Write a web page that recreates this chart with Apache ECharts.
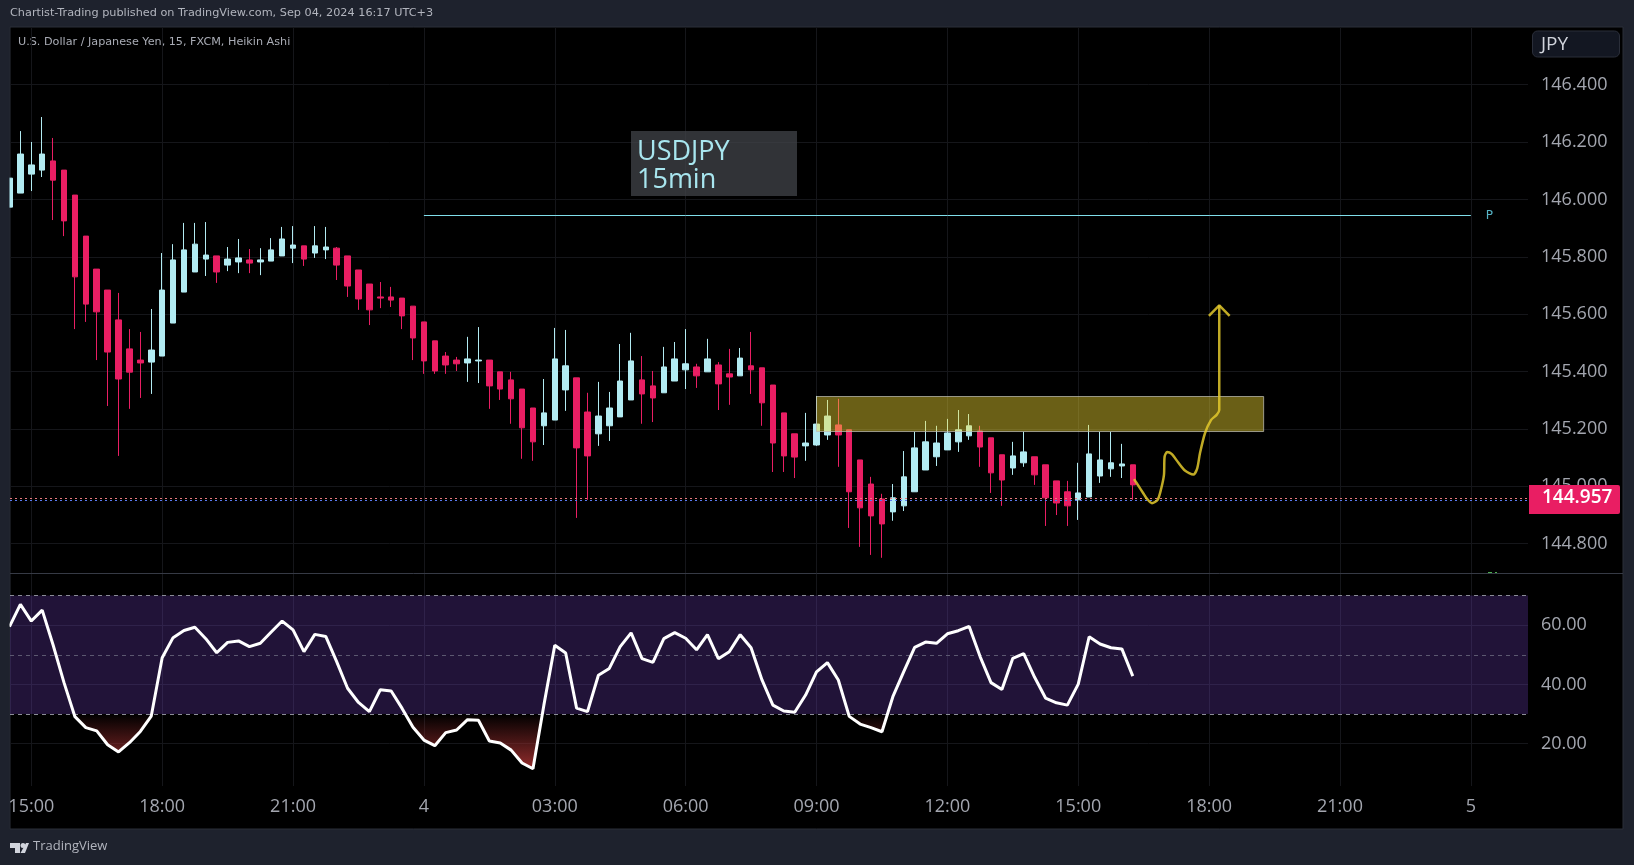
<!DOCTYPE html>
<html>
<head>
<meta charset="utf-8">
<title>USDJPY 15min</title>
<script src="https://cdn.jsdelivr.net/npm/echarts@6/dist/echarts.min.js"></script>
<style>
  html, body { margin: 0; padding: 0; background: #1e222d; }
  #chart { width: 1634px; height: 865px; }
</style>
</head>
<body>
<div id="chart"></div>
<script>
// 15 minute bars, 0 is 15:00 on the 3rd
var firstBar = -2;
var opens = [
  145.973, 146.022, 146.088, 146.102, 146.134, 146.102, 146.015, 145.872, 145.757, 145.684,
  145.580, 145.479, 145.440, 145.433, 145.454, 145.569, 145.677, 145.747, 145.792, 145.803,
  145.771, 145.782, 145.789, 145.782, 145.785, 145.803, 145.830, 145.838, 145.813, 145.824,
  145.830, 145.803, 145.754, 145.705, 145.660, 145.660, 145.656, 145.628, 145.573, 145.507,
  145.454, 145.440, 145.430, 145.437, 145.440, 145.399, 145.371, 145.339, 145.273, 145.211,
  145.231, 145.336, 145.378, 145.259, 145.183, 145.211, 145.242, 145.301, 145.371, 145.350,
  145.326, 145.367, 145.406, 145.416, 145.399, 145.423, 145.392, 145.385, 145.420, 145.413,
  145.353, 145.256, 145.183, 145.141, 145.144, 145.179, 145.214, 145.197, 145.092, 145.008,
  144.956, 144.911, 144.932, 144.981, 145.057, 145.103, 145.127, 145.155, 145.176, 145.193,
  145.169, 145.110, 145.064, 145.082, 145.103, 145.075, 145.019, 144.981, 144.953, 144.963,
  145.036, 145.061, 145.071, 145.075
];
var closes = [
  146.074, 146.158, 146.120, 146.158, 146.067, 145.925, 145.730, 145.635, 145.608, 145.468,
  145.374, 145.398, 145.430, 145.475, 145.684, 145.789, 145.824, 145.844, 145.806, 145.747,
  145.792, 145.796, 145.778, 145.789, 145.824, 145.862, 145.841, 145.792, 145.838, 145.834,
  145.771, 145.698, 145.653, 145.615, 145.656, 145.649, 145.594, 145.517, 145.437, 145.402,
  145.423, 145.427, 145.444, 145.440, 145.350, 145.339, 145.305, 145.204, 145.155, 145.256,
  145.444, 145.420, 145.134, 145.106, 145.245, 145.273, 145.367, 145.437, 145.322, 145.308,
  145.416, 145.444, 145.427, 145.385, 145.444, 145.357, 145.381, 145.447, 145.406, 145.291,
  145.151, 145.106, 145.102, 145.151, 145.217, 145.245, 145.179, 144.981, 144.925, 144.897,
  144.869, 144.960, 145.033, 145.134, 145.155, 145.151, 145.186, 145.197, 145.211, 145.137,
  145.047, 145.022, 145.106, 145.120, 145.040, 144.960, 144.942, 144.932, 144.977, 145.113,
  145.092, 145.082, 145.078, 145.005
];
var lows = [
  145.973, 146.022, 146.029, 146.078, 145.928, 145.872, 145.548, 145.573, 145.440, 145.280,
  145.106, 145.270, 145.308, 145.322, 145.454, 145.569, 145.677, 145.747, 145.733, 145.709,
  145.750, 145.743, 145.743, 145.736, 145.785, 145.803, 145.778, 145.768, 145.796, 145.792,
  145.719, 145.660, 145.615, 145.562, 145.621, 145.625, 145.548, 145.440, 145.392, 145.392,
  145.392, 145.402, 145.364, 145.360, 145.270, 145.301, 145.218, 145.096, 145.089, 145.144,
  145.231, 145.263, 144.890, 144.953, 145.141, 145.158, 145.242, 145.301, 145.218, 145.224,
  145.326, 145.367, 145.339, 145.343, 145.399, 145.266, 145.284, 145.385, 145.322, 145.211,
  145.050, 145.050, 145.029, 145.089, 145.141, 145.162, 145.068, 144.855, 144.789, 144.761,
  144.751, 144.880, 144.914, 144.981, 145.057, 145.071, 145.127, 145.120, 145.162, 145.068,
  144.977, 144.932, 145.040, 145.068, 145.005, 144.862, 144.900, 144.862, 144.883, 144.963,
  145.012, 145.033, 145.029, 144.953
];
var highs = [
  146.074, 146.238, 146.200, 146.287, 146.214, 146.102, 146.015, 145.872, 145.757, 145.684,
  145.674, 145.548, 145.538, 145.618, 145.813, 145.844, 145.918, 145.918, 145.921, 145.803,
  145.834, 145.862, 145.827, 145.830, 145.865, 145.904, 145.907, 145.838, 145.907, 145.904,
  145.834, 145.803, 145.754, 145.705, 145.712, 145.695, 145.656, 145.628, 145.573, 145.507,
  145.468, 145.451, 145.521, 145.555, 145.440, 145.399, 145.399, 145.339, 145.273, 145.374,
  145.552, 145.545, 145.378, 145.326, 145.364, 145.329, 145.496, 145.535, 145.454, 145.402,
  145.486, 145.503, 145.548, 145.427, 145.514, 145.433, 145.479, 145.482, 145.538, 145.413,
  145.353, 145.256, 145.183, 145.256, 145.315, 145.301, 145.305, 145.197, 145.092, 145.033,
  144.974, 145.008, 145.123, 145.190, 145.228, 145.211, 145.235, 145.266, 145.252, 145.211,
  145.169, 145.110, 145.155, 145.190, 145.103, 145.075, 145.019, 145.019, 145.082, 145.214,
  145.190, 145.190, 145.148, 145.075
];
var rsiValues = [
  59.5, 67.05, 61.4, 65.1, 53.3, 40.6, 29.1, 25.4, 24.3, 19.6,
  17.2, 20.3, 24.1, 29.3, 49.0, 55.8, 58.2, 59.3, 55.45, 50.7,
  54.2, 54.7, 52.75, 53.9, 57.7, 61.4, 58.4, 51.05, 56.9, 56.2,
  47.7, 38.7, 33.9, 30.8, 38.2, 37.8, 31.9, 25.5, 21.2, 19.3,
  23.7, 24.6, 28.1, 27.9, 20.9, 20.2, 17.8, 13.45, 11.5, 33.0,
  53.2, 50.6, 32.0, 30.8, 43.1, 45.4, 52.75, 57.4, 48.7, 47.45,
  55.45, 57.5, 55.6, 51.7, 56.8, 48.7, 51.05, 56.8, 52.4, 41.5,
  33.0, 31.0, 30.6, 36.4, 44.2, 47.35, 41.5, 29.2, 26.6, 25.4,
  24.0, 35.85, 44.3, 52.5, 54.3, 53.9, 57.1, 58.15, 59.6, 49.4,
  40.6, 38.3, 48.8, 50.4, 42.4, 35.4, 33.8, 33.0, 40.1, 56.1,
  53.65, 52.4, 52.0, 42.8
];

// time axis
var timeTicks = [0, 12, 24, 36, 48, 60, 72, 84, 96, 108, 120, 132];
var timeLabels = ['15:00', '18:00', '21:00', '4', '03:00', '06:00', '09:00', '12:00', '15:00', '18:00', '21:00', '5'];
var priceTicks = [144.8, 145, 145.2, 145.4, 145.6, 145.8, 146, 146.2, 146.4];
var rsiTicks = [20, 40, 60];

// drawings
var pathX = [101.11, 101.50, 101.96, 102.27, 102.76, 103.28, 103.58, 103.86, 103.92, 104.16, 104.56, 105.17, 105.78, 106.55, 106.91, 107.16, 107.62, 108.17, 108.69, 108.93, 108.93];
var pathY = [145.025, 145.003, 144.976, 144.958, 144.941, 144.953, 144.988, 145.040, 145.104, 145.120, 145.113, 145.083, 145.055, 145.041, 145.063, 145.115, 145.185, 145.231, 145.249, 145.266, 145.631];
var arrowX = [107.98, 108.93, 109.88];
var arrowY = [145.594, 145.631, 145.594];
var zoneX = [72, 113];
var zoneY = [145.313, 145.191];
var pivotX = [36, 132];
var pivotLevel = 145.9438;
var lastPrice = 144.957;

var candles = opens.map(function(o, i) {
    return [firstBar + i, o, closes[i], lows[i], highs[i]];
});
var rsiLine = rsiValues.map(function(v, i) {
    return [firstBar + i, v];
});

function zip(xs, ys) {
    return xs.map(function(x, i) { return [x, ys[i]]; });
}

var xMin = -1.953, xMax = 137.24;
var gridColor = '#15161a';
var labelColor = '#a3a6af';
var labelFont = '"Open Sans"';

function timeAxis(gridIndex, showLabel) {
    return {
        type: 'value',
        gridIndex: gridIndex,
        min: xMin,
        max: xMax,
        axisLine: { show: false },
        axisTick: { show: false, customValues: timeTicks },
        splitLine: { show: true, lineStyle: { color: gridColor, width: 1 } },
        axisLabel: {
            show: showLabel,
            customValues: timeTicks,
            hideOverlap: false,
            margin: 12,
            color: labelColor,
            fontFamily: labelFont,
            fontSize: 18,
            formatter: function(v) { return timeLabels[timeTicks.indexOf(v)]; }
        }
    };
}

function sideAxis(gridIndex, min, max, ticks, digits) {
    return {
        type: 'value',
        gridIndex: gridIndex,
        position: 'right',
        min: min,
        max: max,
        axisLine: { show: false },
        axisTick: { show: false, customValues: ticks },
        splitLine: { show: true, lineStyle: { color: gridColor, width: 1 } },
        axisLabel: {
            customValues: ticks,
            margin: 13,
            padding: [6, 0, 0, 0],
            color: labelColor,
            fontFamily: labelFont,
            fontSize: 18,
            formatter: function(v) { return v.toFixed(digits); }
        }
    };
}

var option = {
    animation: false,
    backgroundColor: '#1e222d',
    grid: [
        { left: 10, top: 27, width: 1518, height: 546 },
        { left: 10, top: 574, width: 1518, height: 212 }
    ],
    xAxis: [timeAxis(0, false), timeAxis(1, true)],
    yAxis: [
        sideAxis(0, 144.698, 146.6007, priceTicks, 3),
        sideAxis(1, 5.68, 77.3, rsiTicks, 2)
    ],
    series: [
        {
            name: 'USDJPY',
            type: 'candlestick',
            data: candles,
            barWidth: 6,
            z: 2,
            itemStyle: {
                color: '#b2ebf2',
                color0: '#e91e63',
                borderColor: '#b2ebf2',
                borderColor0: '#e91e63',
                borderWidth: 1
            },
            markLine: {
                silent: true,
                symbol: 'none',
                label: { show: false },
                data: [
                    { yAxis: lastPrice + 0.003, lineStyle: { color: '#e87a80', type: [2, 3], width: 1 } },
                    { yAxis: lastPrice - 0.002, lineStyle: { color: '#5a7af0', type: [2, 3], width: 1 } }
                ]
            }
        },
        {
            // resistance zone sits over the candles
            name: 'zone',
            type: 'line',
            data: [],
            z: 5,
            markArea: {
                z: 6,
                silent: true,
                itemStyle: {
                    color: 'rgba(245,220,50,0.43)',
                    borderColor: 'rgba(190,190,180,0.75)',
                    borderWidth: 1
                },
                data: [[
                    { xAxis: zoneX[0], yAxis: zoneY[0] },
                    { xAxis: zoneX[1], yAxis: zoneY[1] }
                ]]
            }
        },
        {
            name: 'pivot',
            type: 'line',
            data: zip(pivotX, [pivotLevel, pivotLevel]),
            symbol: 'none',
            z: 6,
            lineStyle: { color: '#80deea', width: 1 },
            endLabel: {
                show: true,
                formatter: 'P',
                distance: 15,
                color: '#56b4c6',
                fontSize: 12,
                fontFamily: 'DejaVu Sans'
            }
        },
        {
            name: 'path',
            type: 'line',
            data: zip(pathX, pathY),
            symbol: 'none',
            smooth: 0.25,
            z: 7,
            lineStyle: { color: 'rgba(226,200,44,0.85)', width: 2.5 }
        },
        {
            name: 'arrow',
            type: 'line',
            data: zip(arrowX, arrowY),
            symbol: 'none',
            z: 7,
            lineStyle: { color: 'rgba(226,200,44,0.85)', width: 2.5 }
        },
        {
            name: 'RSI',
            type: 'line',
            xAxisIndex: 1,
            yAxisIndex: 1,
            data: rsiLine,
            symbol: 'none',
            z: 6,
            lineStyle: { color: '#ffffff', width: 3 },
            areaStyle: {
                origin: 30,
                opacity: 1,
                color: new echarts.graphic.LinearGradient(0, 714, 0, 770, [
                    { offset: 0, color: 'rgba(150,45,45,0)' },
                    { offset: 1, color: 'rgba(150,45,45,1)' }
                ], true)
            },
            markArea: {
                silent: true,
                itemStyle: { color: 'rgba(110,63,187,0.3)' },
                data: [[{ yAxis: 70 }, { yAxis: 30 }]]
            },
            markLine: {
                silent: true,
                symbol: 'none',
                label: { show: false },
                lineStyle: { color: '#8b8d97', type: [4, 4], width: 1 },
                data: [
                    { yAxis: 70 },
                    { yAxis: 50, lineStyle: { color: '#5c5870', type: [4, 4], width: 1 } },
                    { yAxis: 30 }
                ]
            }
        }
    ],
    graphic: [
        // chart frame and pane divider
        { type: 'rect', z: -10, shape: { x: 10, y: 27, width: 1613, height: 802 }, style: { fill: '#000', stroke: '#2a2e39', lineWidth: 1 } },
        // left margin hides the part of the first candle outside the pane
        { type: 'rect', z: 50, shape: { x: 0, y: 27, width: 9.5, height: 802 }, style: { fill: '#1e222d' } },
        { type: 'line', z: 1, shape: { x1: 10, y1: 573.5, x2: 1623, y2: 573.5 }, style: { stroke: '#363a45', lineWidth: 1 } },
        { type: 'line', z: 1, shape: { x1: 1488, y1: 572.5, x2: 1492, y2: 572.5 }, style: { stroke: '#4caf50', lineWidth: 1 } },
        { type: 'line', z: 1, shape: { x1: 1495, y1: 572.5, x2: 1497, y2: 572.5 }, style: { stroke: '#4caf50', lineWidth: 1 } },
        { type: 'text', x: 10, y: 8, style: { text: 'Chartist-Trading published on TradingView.com, Sep 04, 2024 16:17 UTC+3', fill: '#b2b5be', font: '11.25px "DejaVu Sans"' } },
        { type: 'text', x: 18, y: 37, style: { text: 'U.S. Dollar / Japanese Yen, 15, FXCM, Heikin Ashi', fill: '#a9acb5', font: '11.2px "DejaVu Sans"' } },
        // note box
        { type: 'rect', z: 1, shape: { x: 631, y: 131, width: 166, height: 65 }, style: { fill: 'rgba(66,68,73,0.75)' } },
        { type: 'text', z: 10, x: 637, y: 138, style: { text: 'USDJPY\n15min', fill: '#a8e6ef', font: '27px "Open Sans"', lineHeight: 28 } },
        // currency button
        { type: 'rect', z: 10, shape: { x: 1532.5, y: 31, width: 87, height: 26, r: 5 }, style: { fill: '#131722', stroke: '#2a2e39', lineWidth: 1 } },
        { type: 'text', z: 11, x: 1541, y: 35, style: { text: 'JPY', fill: '#d1d4dc', font: '19px "Open Sans"' } },
        // last price tag
        { type: 'rect', z: 100, shape: { x: 1529, y: 485, width: 91, height: 29, r: [0, 2, 2, 0] }, style: { fill: '#e91e63' } },
        { type: 'text', z: 101, x: 1542, y: 488, style: { text: lastPrice.toFixed(3), fill: '#ffffff', font: '600 19px "Open Sans"' } },
        // footer logo
        { type: 'polygon', shape: { points: [[10, 843], [20, 843], [20, 853], [15, 853], [15, 848], [10, 848]] }, style: { fill: '#d1d4dc' } },
        { type: 'circle', shape: { cx: 23, cy: 845.5, r: 2.5 }, style: { fill: '#d1d4dc' } },
        { type: 'polygon', shape: { points: [[26, 843], [29, 843], [25, 853], [20.5, 853]] }, style: { fill: '#d1d4dc' } },
        { type: 'text', x: 33, y: 840, style: { text: 'TradingView', fill: '#b2b5be', font: '13px "Open Sans"' } }
    ]
};

var chart = echarts.init(document.getElementById('chart'));
chart.setOption(option);
</script>
</body>
</html>
